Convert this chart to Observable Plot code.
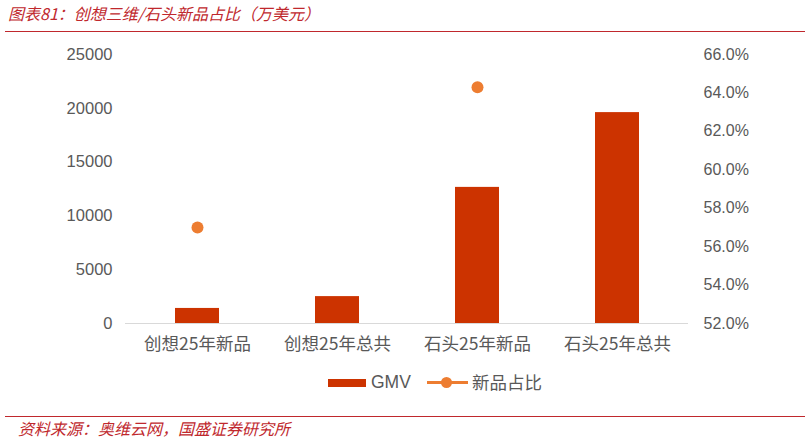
<!DOCTYPE html>
<html><head><meta charset="utf-8">
<script src="https://cdn.jsdelivr.net/npm/d3@7"></script>
<script src="https://cdn.jsdelivr.net/npm/@observablehq/plot@0.6"></script>
<style>
body{margin:0;background:#fff;}
#wrap{position:relative;width:811px;height:441px;overflow:hidden;font-family:"Liberation Sans",Arial,sans-serif;}
.t{position:absolute;font-family:"Noto Sans CJK SC",sans-serif;font-style:italic;color:#c0282d;font-size:16px;white-space:nowrap;}
.hl{position:absolute;height:1px;background:#c0282d;}
#plot{position:absolute;left:0;top:0;}
.leg{position:absolute;font-family:"Noto Sans CJK SC","Liberation Sans",sans-serif;font-size:17.5px;color:#595959;white-space:nowrap;}
</style></head>
<body><div id="wrap">
<div id="plot"></div>
<div class="t" style="left:8px;top:1px;">图表81：创想三维/石头新品占比（万美元）</div>
<div class="hl" style="left:5px;top:31px;width:800px;"></div>
<div class="hl" style="left:5px;top:416px;width:800px;"></div>
<div class="t" style="left:18px;top:416px;">资料来源：奥维云网，国盛证券研究所</div>
<div style="position:absolute;left:328px;top:379px;width:38px;height:8px;background:#cc3300;"></div>
<div class="leg" style="left:371px;top:372px;font-family:'Liberation Sans',sans-serif;">GMV</div>
<div style="position:absolute;left:427px;top:381px;width:41px;height:3px;background:#ed7d31;"></div>
<div style="position:absolute;left:441px;top:377px;width:11px;height:11px;border-radius:50%;background:#ed7d31;"></div>
<div class="leg" style="left:472px;top:369px;">新品占比</div>
</div>
<script>
const categories = ["创想25年新品","创想25年总共","石头25年新品","石头25年总共"];
const gmv = [1400, 2500, 12650, 19600];
const share = [57.0, null, 64.3, null];
const leftTicks = [0,5000,10000,15000,20000,25000];
const rightTicks = [52,54,56,58,60,62,64,66];

const rMin = 52, rMax = 66, lMax = 25000;
const toLeft = v => (v - rMin) / (rMax - rMin) * lMax;

const bars = categories.map((c,i)=>({c, v: gmv[i]}));
const dots = categories.map((c,i)=>({c, v: share[i]})).filter(d=>d.v!=null).map(d=>({c:d.c, y: toLeft(d.v)}));

const chart = Plot.plot({
  width: 811, height: 441,
  marginTop: 54, marginBottom: 118, marginLeft: 125, marginRight: 123,
  style: {fontFamily: "'Liberation Sans', Arial, sans-serif", fontSize: "16px", color: "#595959", background: "transparent"},
  x: {type: "band", domain: categories, paddingInner: 0, paddingOuter: 0, label: null},
  y: {domain: [0, lMax], label: null},
  marks: [
    Plot.barY(bars, {x: "c", y: "v", fill: "#cc3300", insetLeft: 48, insetRight: 48}),
    Plot.ruleY([0], {stroke: "#d9d9d9", strokeWidth: 1}),
    Plot.dot(dots, {x: "c", y: "y", r: 6, fill: "#ed7d31"}),
    Plot.axisY(leftTicks, {anchor: "left", tickSize: 0, tickPadding: 13, fontSize: 16.5, fill: "#595959", label: null, tickFormat: d => String(d)}),
    Plot.axisY(rightTicks.map(toLeft), {anchor: "right", tickSize: 0, tickPadding: 15, fontSize: 16, fill: "#595959", label: null,
      tickFormat: v => (rMin + v / lMax * (rMax - rMin)).toFixed(1) + "%"}),
    Plot.axisX({tickSize: 0, tickPadding: 14, fontSize: 17.5, fill: "#595959", fontFamily: "'Noto Sans CJK SC', sans-serif", label: null})
  ]
});
document.getElementById("plot").appendChild(chart);
</script>
</body></html>
